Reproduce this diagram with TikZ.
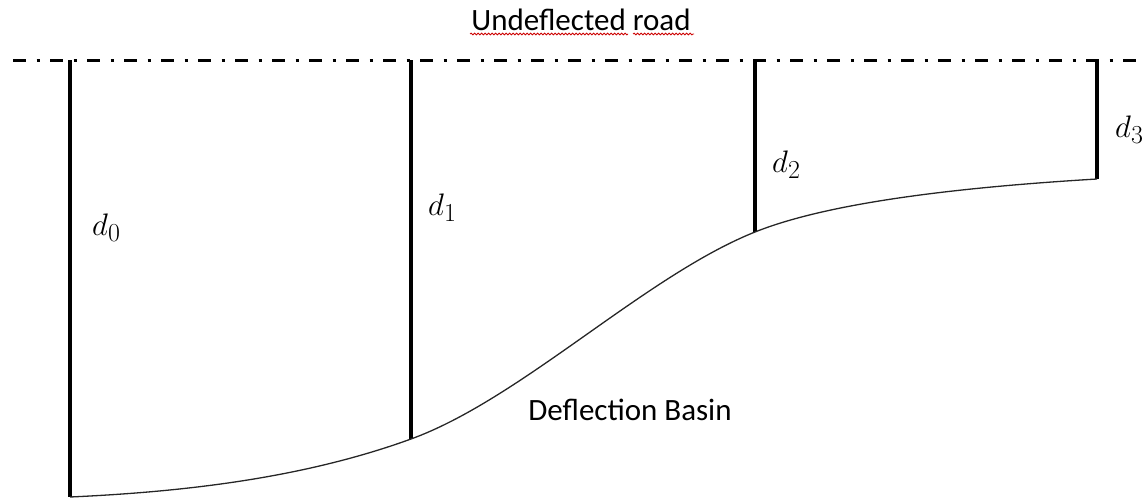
\documentclass[tikz,border=0pt]{standalone}
\usepackage{fontspec}
\setmainfont{Carlito}
\usetikzlibrary{decorations.pathmorphing}
\newcommand{\dlab}[1]{\scalebox{1.25}{$d_{#1}$}}
\begin{document}
\begin{tikzpicture}[x=1pt,y=-1pt,
  roadline/.style={line width=3pt,dash pattern=on 13pt off 10.5pt on 3pt off 10.5pt},
  gauge/.style={line width=3.5pt},
  basin/.style={line width=1.3pt,black!85},
  lbl/.style={inner sep=0pt,font=\fontsize{31}{37}\selectfont},
  dlbl/.style={inner sep=0pt,anchor=base west,font=\fontsize{24.88}{30}\selectfont},
  squiggle/.style={red!80!black,line width=0.8pt,decorate,decoration={snake,amplitude=0.9pt,segment length=3.5pt}}]
\useasboundingbox (0,0) rectangle (1144,498);
% road
\coordinate (rl) at (13,60);
\coordinate (rr) at (1136,60);
\draw[roadline] (rl) -- (rr);
\node[lbl,anchor=base] (title) at (581,30) {Undeflected road};
\draw[squiggle] (470,34) -- (628,34);
\draw[squiggle] (633,34) -- (694,34);
% gauges
\coordinate (t0) at (70,60);   \coordinate (b0) at (70,497);
\coordinate (t1) at (411,60);  \coordinate (b1) at (411,439);
\coordinate (t2) at (755,60);  \coordinate (b2) at (755,232);
\coordinate (t3) at (1097,60); \coordinate (b3) at (1097,179);
\draw[gauge] (t0) -- (b0);
\draw[gauge] (t1) -- (b1);
\draw[gauge] (t2) -- (b2);
\draw[gauge] (t3) -- (b3);
% basin curve
\draw[basin] (b0) .. controls (180,492) and (301,479) .. (b1)
  .. controls (521,399) and (645,276) .. (b2)
  .. controls (825,204) and (947,188) .. (b3);
% labels
\node[dlbl] (d0) at (92,235) {\dlab{0}};
\node[dlbl] (d1) at (428,215) {\dlab{1}};
\node[dlbl] (d2) at (772,172) {\dlab{2}};
\node[dlbl] (d3) at (1115,137) {\dlab{3}};
\node[lbl,anchor=base] (basinlbl) at (630,420) {Deflection Basin};
\end{tikzpicture}
\end{document}
